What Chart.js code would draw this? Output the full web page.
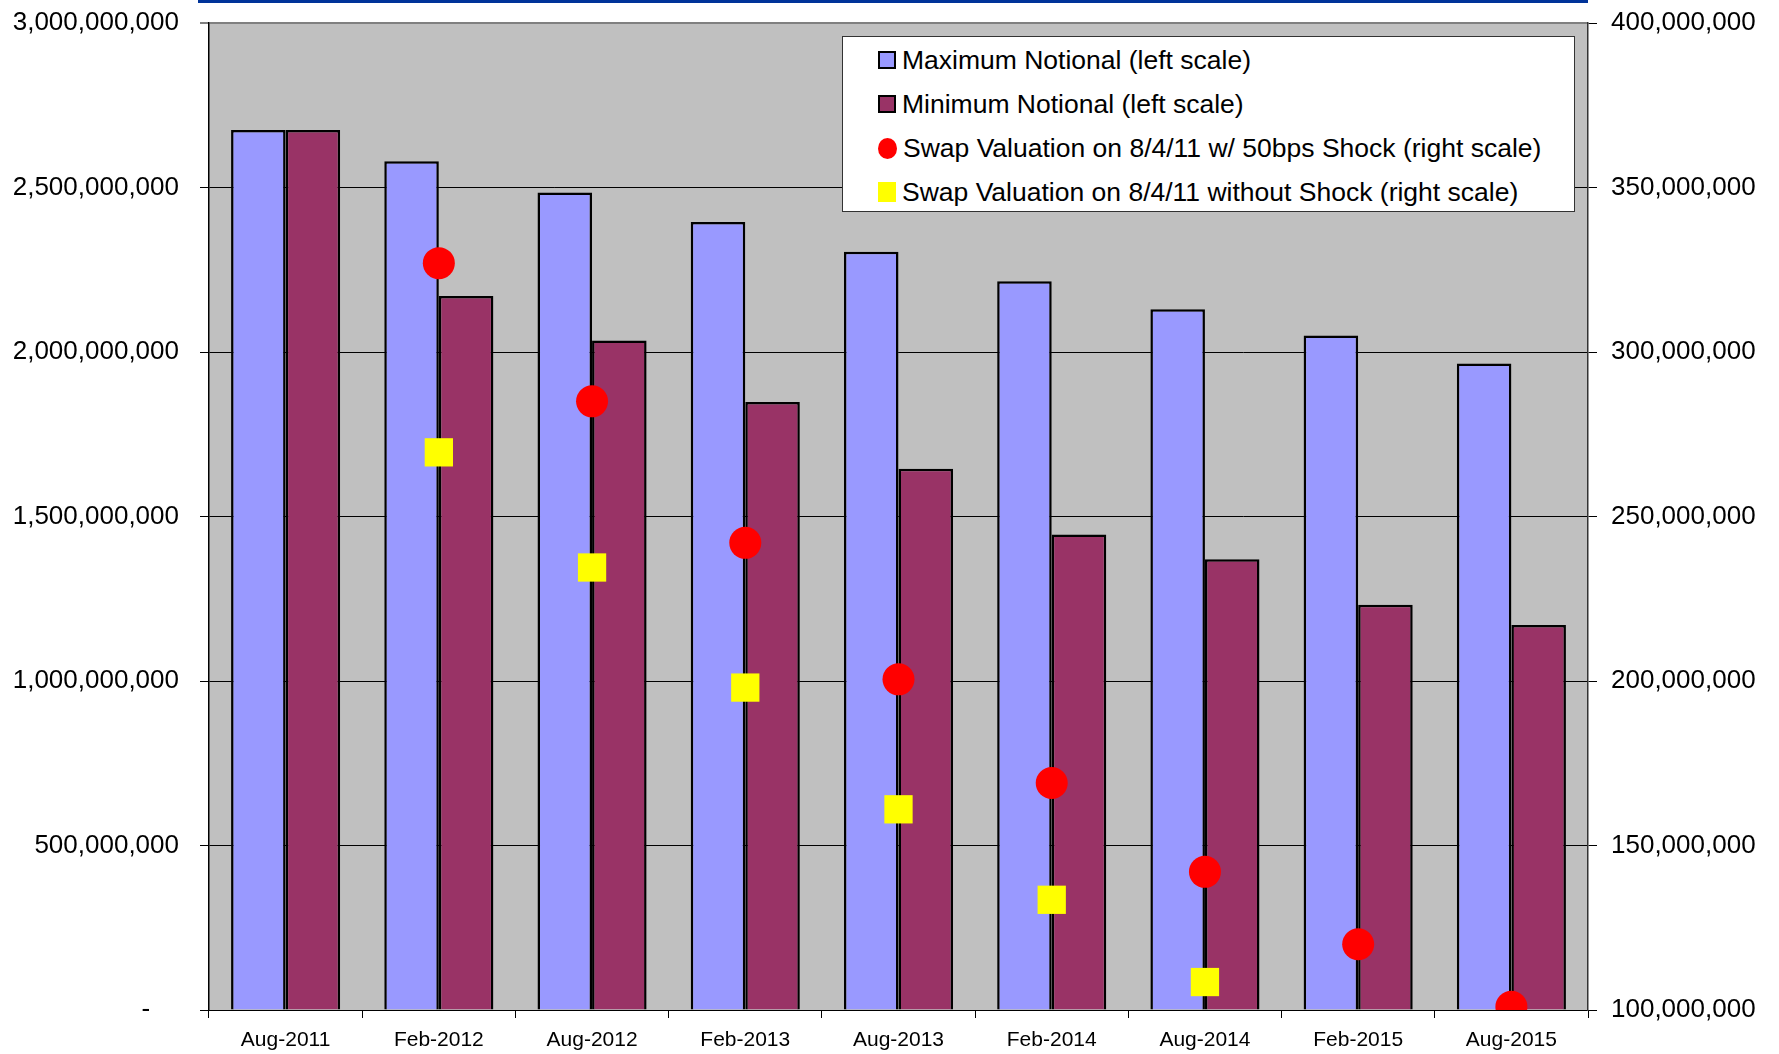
<!DOCTYPE html>
<html>
<head>
<meta charset="utf-8">
<script src="https://cdn.jsdelivr.net/npm/chart.js@4/dist/chart.umd.min.js"></script>
<style>
  html, body { margin: 0; padding: 0; background: #fff; }
  #wrap { position: relative; width: 1779px; height: 1054px; }
  #topRule { position: absolute; left: 198px; top: 0; width: 1390px; height: 3px; background: #003399; }
  #legend {
    position: absolute; left: 842px; top: 36px; width: 733px; height: 176px;
    box-sizing: border-box; background: #fff; border: 1px solid #333;
    font-family: "Liberation Sans", Arial, sans-serif; font-size: 26.5px; color: #000;
  }
  .item { position: absolute; left: 35px; height: 32px; display: flex; align-items: center; white-space: nowrap; }
  .sym { display: inline-block; margin-right: 6px; box-sizing: border-box; }
</style>
</head>
<body>
<div id="wrap">
  <canvas id="c" width="1779" height="1054"></canvas>
  <div id="topRule"></div>
  <div id="legend"></div>
</div>
<script>
// Semi-annual notional schedule and swap valuations
const categories = ['Aug-2011', 'Feb-2012', 'Aug-2012', 'Feb-2013', 'Aug-2013', 'Feb-2014', 'Aug-2014', 'Feb-2015', 'Aug-2015'];
const maxNotional = [2675000000, 2580000000, 2485000000, 2395000000, 2305000000, 2215000000, 2130000000, 2050000000, 1965000000];
const minNotional = [2675000000, 2170000000, 2035000000, 1848000000, 1645000000, 1445000000, 1370000000, 1232000000, 1170000000];
const shockValuation = [null, 327000000, 285000000, 242000000, 200500000, 169000000, 142000000, 120000000, 101000000];
const baseValuation = [null, 269500000, 234500000, 198000000, 161000000, 133500000, 108500000, null, null];
const leftTicks = [0, 500000000, 1000000000, 1500000000, 2000000000, 2500000000, 3000000000];
const rightTicks = [100000000, 150000000, 200000000, 250000000, 300000000, 350000000, 400000000];

const FONT = '"Liberation Sans", Arial, sans-serif';
const fmt = v => Math.round(v).toLocaleString('en-US');

const plotBackground = {
  id: 'plotBackground',
  beforeDraw(chart) {
    const { ctx, chartArea: a } = chart;
    ctx.save();
    ctx.fillStyle = '#C0C0C0';
    ctx.fillRect(a.left, a.top, a.right - a.left, a.bottom - a.top);
    ctx.restore();
  }
};

const datasets = [
  { type: 'bar', label: 'Maximum Notional (left scale)', data: maxNotional, yAxisID: 'y',
    backgroundColor: '#9999FF', borderColor: '#000', borderWidth: 2.5, borderSkipped: 'start', order: 2 },
  { type: 'bar', label: 'Minimum Notional (left scale)', data: minNotional, yAxisID: 'y',
    backgroundColor: '#993366', borderColor: '#000', borderWidth: 2.5, borderSkipped: 'start', order: 2 },
  { type: 'line', label: 'Swap Valuation on 8/4/11 w/ 50bps Shock (right scale)', data: shockValuation, yAxisID: 'y1',
    showLine: false, pointStyle: 'circle', pointRadius: 16, pointHoverRadius: 16,
    pointBackgroundColor: '#FF0000', pointBorderWidth: 0, backgroundColor: '#FF0000', borderColor: '#FF0000', order: 1 },
  { type: 'line', label: 'Swap Valuation on 8/4/11 without Shock (right scale)', data: baseValuation, yAxisID: 'y1',
    showLine: false, pointStyle: 'rect', pointRadius: 20, pointHoverRadius: 20,
    pointBackgroundColor: '#FFFF00', pointBorderWidth: 0, backgroundColor: '#FFFF00', borderColor: '#FFFF00', order: 0 }
];

// keep the value axes from reserving extra room above and below the plot
const noVerticalPadding = s => { s.paddingTop = 0; s.paddingBottom = 0; };

new Chart(document.getElementById('c'), {
  data: { labels: categories, datasets },
  plugins: [plotBackground],
  options: {
    responsive: false,
    animation: false,
    layout: { padding: { top: 23, left: 0, right: 0, bottom: 0 } },
    plugins: { legend: { display: false }, tooltip: { enabled: false } },
    datasets: { bar: { categoryPercentage: 0.712, barPercentage: 1.0 } },
    scales: {
      x: {
        grid: { offset: true, drawOnChartArea: false, tickLength: 8, color: '#000' },
        border: { color: '#000', width: 1 },
        ticks: { color: '#000', font: { family: FONT, size: 21 }, padding: 10, maxRotation: 0 },
        afterFit(s) { s.height = 44; s.paddingLeft = 0; s.paddingRight = 0; }
      },
      y: {
        position: 'left', min: 0, max: 3000000000,
        afterBuildTicks(s) { s.ticks = leftTicks.map(v => ({ value: v })); },
        ticks: { color: '#000', font: { family: FONT, size: 26 }, padding: 21,
          callback: v => v === 0 ? '-    ' : fmt(v) },
        grid: { color: c => c.tick && c.tick.value === 3000000000 ? '#808080' : '#000',
                lineWidth: c => c.tick && c.tick.value === 3000000000 ? 2 : 1, tickLength: 9 },
        border: { color: '#000', width: 1.5 },
        afterFit(s) { s.width = 209; noVerticalPadding(s); }
      },
      y1: {
        position: 'right', min: 100000000, max: 400000000,
        afterBuildTicks(s) { s.ticks = rightTicks.map(v => ({ value: v })); },
        ticks: { color: '#000', font: { family: FONT, size: 26 }, padding: 14, callback: v => fmt(v) },
        grid: { drawOnChartArea: false, tickLength: 9, color: '#000' },
        border: { color: '#333', width: 1.5 },
        afterFit(s) { s.width = 191; noVerticalPadding(s); }
      }
    }
  }
});

// Legend box built from the dataset labels
const legend = document.getElementById('legend');
const rowTops = [7, 51, 95, 139];
datasets.forEach((d, i) => {
  const row = document.createElement('div');
  row.className = 'item';
  row.style.top = rowTops[i] + 'px';
  const sym = document.createElement('span');
  sym.className = 'sym';
  if (d.type === 'bar') {
    sym.style.cssText = 'width:18px;height:18px;border:2px solid #000;background:' + d.backgroundColor;
  } else if (d.pointStyle === 'circle') {
    sym.style.cssText = 'width:19px;height:21px;border-radius:50%;background:' + d.pointBackgroundColor;
  } else {
    sym.style.cssText = 'width:18px;height:20px;background:' + d.pointBackgroundColor;
  }
  const txt = document.createElement('span');
  txt.textContent = d.label;
  row.appendChild(sym);
  row.appendChild(txt);
  legend.appendChild(row);
});
</script>
</body>
</html>
